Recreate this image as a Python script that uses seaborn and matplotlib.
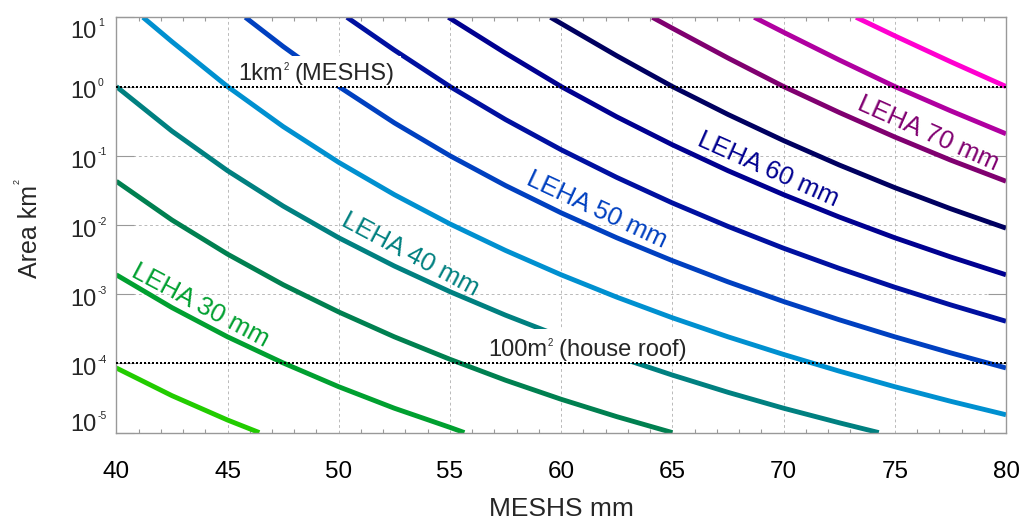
import matplotlib
matplotlib.use("Agg")
import matplotlib.pyplot as plt
from matplotlib.patches import Rectangle
from matplotlib.ticker import FixedLocator, MultipleLocator, NullLocator, NullFormatter
import pandas as pd
import seaborn as sns

sns.set_style("white")
plt.rcParams["font.family"] = ["Liberation Sans", "DejaVu Sans"]

# ---------------------------------------------------------------------------
# Data: affected area (km^2) as a function of MESHS (mm), one curve per LEHA
# ---------------------------------------------------------------------------
leha_sizes = [25, 30, 35, 40, 45, 50, 55, 60, 65, 70, 75, 80]
leha_colors = ["#22cc00", "#00a030", "#008050", "#008080", "#0090d0", "#0040c0",
               "#0010a0", "#000090", "#000060", "#800070", "#b000a0", "#ff00d0"]

meshs_25 = [40, 42.5, 45, 46.43]
area_25 = [8.59e-5, 3.42e-5, 1.52e-5, 1.0e-5]

meshs_30 = [40, 42.5, 45, 47.5, 50, 52.5, 55, 55.65]
area_30 = [1.905e-3, 6.40e-4, 2.42e-4, 1.016e-4, 4.60e-5, 2.25e-5, 1.19e-5, 1.0e-5]

meshs_35 = [40, 42.5, 45, 47.5, 50, 52.5, 55, 57.5, 60, 62.5, 65]
area_35 = [4.28e-2, 1.18e-2, 3.79e-3, 1.37e-3, 5.53e-4, 2.42e-4, 1.146e-4, 5.71e-5,
           3.03e-5, 1.70e-5, 1.0e-5]

meshs_40 = [40, 42.5, 45, 47.5, 50, 52.5, 55, 57.5, 60, 62.5, 65, 67.5, 70, 72.5, 74.28]
area_40 = [1.0, 0.227, 0.0608, 0.01875, 6.53e-3, 2.55e-3, 1.087e-3, 4.97e-4, 2.42e-4,
           1.253e-4, 6.78e-5, 3.82e-5, 2.25e-5, 1.387e-5, 1.0e-5]

meshs_45 = [41.2, 42.5, 45, 47.5, 50, 52.5, 55, 57.5, 60, 62.5, 65, 67.5, 70,
            72.5, 75, 77.5, 80]
area_45 = [10, 4.45, 1.0, 0.264, 0.0802, 0.0274, 0.01035, 4.28e-3, 1.905e-3, 9.06e-4,
           4.56e-4, 2.42e-4, 1.346e-4, 7.73e-5, 4.60e-5, 2.84e-5, 1.81e-5]

meshs_50 = [45.8, 47.5, 50, 52.5, 55, 57.5, 60, 62.5, 65, 67.5, 70, 72.5, 75, 77.5, 80]
area_50 = [10, 3.79, 1.0, 0.2985, 0.10, 0.0371, 0.01496, 6.53e-3, 3.05e-3, 1.507e-3,
           7.83e-4, 4.27e-4, 2.42e-4, 1.422e-4, 8.59e-5]

meshs_55 = [50.37, 52.5, 55, 57.5, 60, 62.5, 65, 67.5, 70, 72.5, 75, 77.5, 80]
area_55 = [10, 3.36, 1.0, 0.333, 0.122, 0.0486, 0.0208, 9.53e-3, 4.61e-3, 2.36e-3,
           1.259e-3, 7.02e-4, 4.06e-4]

meshs_60 = [54.93, 57.5, 60, 62.5, 65, 67.5, 70, 72.5, 75, 77.5, 80]
area_60 = [10, 3.03, 1.0, 0.365, 0.144, 0.0608, 0.0274, 0.01303, 6.53e-3, 3.46e-3,
           1.905e-3]

meshs_65 = [59.52, 62.5, 65, 67.5, 70, 72.5, 75, 77.5, 80]
area_65 = [10, 2.78, 1.0, 0.395, 0.1656, 0.0736, 0.0346, 0.0172, 8.99e-3]

meshs_70 = [64.1, 65, 67.5, 70, 72.5, 75, 77.5, 80]
area_70 = [10, 6.95, 2.58, 1.0, 0.422, 0.1866, 0.0867, 0.0428]

meshs_75 = [68.68, 70, 72.5, 75, 77.5, 80]
area_75 = [10, 6.08, 2.42, 1.0, 0.447, 0.2075]

meshs_80 = [73.26, 75, 77.5, 80]
area_80 = [10, 5.40, 2.29, 1.0]

curves = {
    25: (meshs_25, area_25), 30: (meshs_30, area_30), 35: (meshs_35, area_35),
    40: (meshs_40, area_40), 45: (meshs_45, area_45), 50: (meshs_50, area_50),
    55: (meshs_55, area_55), 60: (meshs_60, area_60), 65: (meshs_65, area_65),
    70: (meshs_70, area_70), 75: (meshs_75, area_75), 80: (meshs_80, area_80),
}

# Curve annotations
curve_label_leha = [30, 40, 50, 60, 70]
curve_label_text = ["LEHA 30 mm", "LEHA 40 mm", "LEHA 50 mm", "LEHA 60 mm", "LEHA 70 mm"]
curve_label_meshs = [43.8, 53.2, 61.6, 69.3, 76.5]
curve_label_area = [6.8e-4, 3.7e-3, 1.67e-2, 6.3e-2, 0.213]
curve_label_angle = [-28, -28, -25, -24, -24]

# Reference area levels
ref_levels = [1.0, 1e-4]

# Axis ticks
x_ticks = [40, 45, 50, 55, 60, 65, 70, 75, 80]
x_tick_labels = ["40", "45", "50", "55", "60", "65", "70", "75", "80"]
y_exponents = [1, 0, -1, -2, -3, -4, -5]

# ---------------------------------------------------------------------------
rows = []
for leha, (xs, ys) in curves.items():
    for xv, yv in zip(xs, ys):
        rows.append({"LEHA": leha, "MESHS": xv, "Area": yv})
df = pd.DataFrame(rows)
palette = dict(zip(leha_sizes, leha_colors))

W, H = 1022, 519
fig = plt.figure(figsize=(W / 100, H / 100), dpi=100)
ax_l, ax_r, ax_t, ax_b = 116.3, 1006.0, 17.3, 432.6
ax = fig.add_axes([ax_l / W, 1 - ax_b / H, (ax_r - ax_l) / W, (ax_b - ax_t) / H])

sns.lineplot(data=df, x="MESHS", y="Area", hue="LEHA", palette=palette,
             estimator=None, sort=True, legend=False, linewidth=3.5,
             solid_capstyle="butt", solid_joinstyle="round", ax=ax, zorder=2)

ax.set_yscale("log")
ax.set_xlim(40, 80)
ax.set_ylim(1e-5, 1e1)
ax.set_xlabel("")
ax.set_ylabel("")

# grid
grid_kw = dict(color="#bbbbbb", linewidth=0.72, linestyle=(0, (2.8, 2.8)))
ax.xaxis.set_major_locator(FixedLocator(x_ticks))
ax.xaxis.set_minor_locator(MultipleLocator(1))
ax.set_xticklabels(x_tick_labels, fontsize=17.5)
ax.yaxis.set_major_locator(FixedLocator([10.0 ** e for e in y_exponents]))
ax.yaxis.set_minor_locator(NullLocator())
ax.yaxis.set_major_formatter(NullFormatter())
ax.grid(True, which="major", axis="both", **grid_kw)
ax.set_axisbelow(True)

for s in ax.spines.values():
    s.set_color("#999999")
    s.set_linewidth(1.0)

ax.tick_params(axis="x", which="major", direction="in", length=0, pad=20.4,
               labelsize=17.5, colors="black")
ax.tick_params(axis="x", which="minor", direction="in", length=3, width=0.8,
               color="#999999", top=True, bottom=True)
ax.tick_params(axis="y", which="major", direction="in", length=13, width=0.8,
               color="#999999", left=True, right=True)

# reference levels
for lvl in ref_levels:
    ax.axhline(lvl, color="black", linewidth=1.44, linestyle=(0, (1, 1)), zorder=4)

# white backing boxes behind the reference-level annotations
ax.add_patch(Rectangle((45.3, 1.0), 52.8 - 45.3, 2.72 - 1.0, facecolor="white",
                       edgecolor="none", zorder=3))
ax.add_patch(Rectangle((56.4, 1e-4), 65.9 - 56.4, 3.1e-4 - 1e-4, facecolor="white",
                       edgecolor="none", zorder=3))

PT = 0.72  # points per pixel at 100 dpi

# y tick labels: "10" with a small raised exponent
for e in y_exponents:
    if e == y_exponents[0]:
        base_dy = -21.0
    elif e == y_exponents[-1]:
        base_dy = 1.3
    else:
        base_dy = -11.8
    ax.annotate("10", xy=(0, 10.0 ** e), xycoords=("axes fraction", "data"),
                xytext=(-20 * PT, base_dy * PT), textcoords="offset points",
                ha="right", va="baseline", fontsize=17, annotation_clip=False)
    ax.annotate(str(e), xy=(0, 10.0 ** e), xycoords=("axes fraction", "data"),
                xytext=(-18.5 * PT, (base_dy + 12.1) * PT), textcoords="offset points",
                ha="left", va="baseline", fontsize=7.5, annotation_clip=False)

# curve labels
for leha, txt, xm, ya, ang in zip(curve_label_leha, curve_label_text, curve_label_meshs,
                                  curve_label_area, curve_label_angle):
    ax.text(xm, ya, txt, color=palette[leha], fontsize=18.5, rotation=ang,
            rotation_mode="anchor", ha="center", va="center", zorder=6)

fig.canvas.draw()
renderer = fig.canvas.get_renderer()


def text_with_sup(x, y, head, sup, tail, size, sup_size, rise_px, gap_px):
    t1 = ax.text(x, y, head, fontsize=size, ha="left", va="baseline", zorder=6)
    bx, by = ax.transData.transform((x, y))
    bb1 = t1.get_window_extent(renderer)
    t2 = ax.annotate(sup, xy=(bb1.x1 + 1, by + rise_px), xycoords="figure pixels",
                     fontsize=sup_size, ha="left", va="baseline", zorder=6)
    bb2 = t2.get_window_extent(renderer)
    ax.annotate(tail, xy=(bb2.x1 + gap_px, by), xycoords="figure pixels",
                fontsize=size, ha="left", va="baseline", zorder=6)


text_with_sup(45.47, 1.26, "1km", "2", "(MESHS)", 17, 7, 9.5, 6)
text_with_sup(56.71, 1.297e-4, "100m", "2", "(house roof)", 17, 7, 9.5, 6)

# axis titles
fig.text(561.5 / W, 3 / H, "MESHS mm", fontsize=19, ha="center", va="baseline")
ylab = fig.text(37 / W, 1 - 231 / H, "Area km", fontsize=18, rotation=90,
                rotation_mode="anchor", ha="center", va="baseline")
bby = ylab.get_window_extent(renderer)
fig.text((37 - 17) / W, (bby.y1 + 1) / H, "2", fontsize=6.5, rotation=90,
         rotation_mode="anchor", ha="left", va="baseline")

fig.savefig("out.png", dpi=100)
